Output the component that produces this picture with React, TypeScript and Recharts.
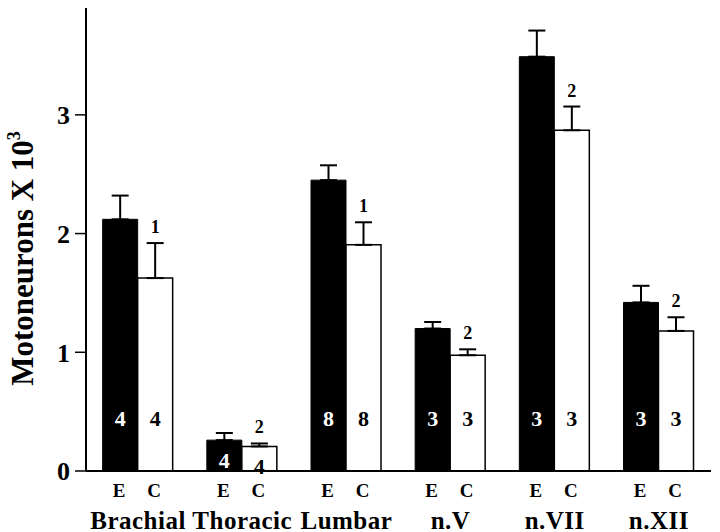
import { Bar, BarChart, ErrorBar, LabelList, XAxis, YAxis } from 'recharts';

const SERIF = '"Liberation Serif", "Times New Roman", serif';

const regions = ['Brachial', 'Thoracic', 'Lumbar', 'n.V', 'n.VII', 'n.XII'];
const expMean = [2.12, 0.26, 2.45, 1.2, 3.49, 1.42];
const expSem = [0.2, 0.06, 0.125, 0.055, 0.22, 0.14];
const ctlMean = [1.625, 0.207, 1.905, 0.975, 2.87, 1.18];
const ctlSem = [0.295, 0.025, 0.19, 0.05, 0.2, 0.115];
const nExp = [4, 4, 8, 3, 3, 3];
const nCtl = [4, 4, 8, 3, 3, 3];
const sigMarks = ['1', '2', '1', '2', '2', '2'];
const yTicks = [0, 1, 2, 3];

const data = regions.map((region, i) => ({
  region,
  e: expMean[i],
  eErr: [0, expSem[i]],
  c: ctlMean[i],
  cErr: [0, ctlSem[i]],
}));

const frame = { stroke: '#000', strokeWidth: 2 };

function box(p: any) {
  const vb = p.viewBox || p;
  return { x: Number(vb.x), y: Number(vb.y), w: Number(vb.width), h: Number(vb.height) };
}

// n per group, written inside the bar near its foot
const countLabel = (counts: number[], color: string) => (p: any) => {
  const { x, y, w, h } = box(p);
  const bottom = y + h;
  const cy = Math.max(bottom - 53, y + 20);
  return (
    <text x={x + w / 2} y={cy + 7.5} textAnchor="middle" fill={color} fontFamily={SERIF} fontWeight="bold" fontSize={22}>
      {counts[p.index]}
    </text>
  );
};

// E / C under each bar
const groupLetter = (letter: string) => (p: any) => {
  const { x, y, w, h } = box(p);
  return (
    <text x={x + w / 2 - 1} y={y + h + 26} textAnchor="middle" fill="#000" fontFamily={SERIF} fontWeight="bold" fontSize={19}>
      {letter}
    </text>
  );
};

// significance mark above the control error bar
const sigLabel = (p: any) => {
  const { x, y, w, h } = box(p);
  const i = p.index;
  const perUnit = h / ctlMean[i];
  const top = y - ctlSem[i] * perUnit;
  return (
    <text x={x + w / 2} y={top - 10} textAnchor="middle" fill="#000" fontFamily={SERIF} fontWeight="bold" fontSize={18}>
      {sigMarks[i]}
    </text>
  );
};

function RegionTick(props: any) {
  const { x, y, payload } = props;
  return (
    <text x={x} y={y + 57.5} textAnchor="middle" fill="#000" fontFamily={SERIF} fontWeight="bold" fontSize={25} letterSpacing={0.5}>
      {payload.value}
    </text>
  );
}

function YLabel(props: any) {
  const vb = props.viewBox || { x: 0, y: 0, width: 86, height: 462 };
  const x = vb.x + 33;
  const y = vb.y + vb.height / 2 + 19;
  return (
    <text x={x} y={y} transform={`rotate(-90, ${x}, ${y})`} textAnchor="middle" fill="#000" fontFamily={SERIF} fontWeight="bold" fontSize={31}>
      Motoneurons X 10
      <tspan dy={-13} fontSize={18}>3</tspan>
    </text>
  );
}

export default function App() {
  return (
    <div style={{ position: 'absolute', left: 0, top: 0, background: '#fff' }}>
      <BarChart width={720} height={532} data={data} margin={{ top: 8, right: 9, bottom: 0, left: 0 }} barCategoryGap="16%" barGap={0}>
        <XAxis dataKey="region" height={61} interval={0} tickLine={false} tickSize={0} tickMargin={0} axisLine={frame} tick={<RegionTick />} />
        <XAxis xAxisId="top" dataKey="region" orientation="top" height={0} tick={false} tickLine={false} axisLine={frame} />
        <YAxis
          domain={[0, 3.9]}
          ticks={yTicks}
          allowDataOverflow
          width={86}
          tickSize={11}
          tickMargin={5}
          axisLine={frame}
          tickLine={{ stroke: '#000', strokeWidth: 1.5 }}
          tick={{ fill: '#000', fontSize: 26, fontWeight: 'bold', fontFamily: SERIF }}
          label={<YLabel />}
        />
        <YAxis yAxisId="right" orientation="right" width={0} domain={[0, 3.9]} tick={false} tickLine={false} axisLine={frame} />
        <Bar dataKey="e" fill="#000" stroke="#000" strokeWidth={1} isAnimationActive={false}>
          <ErrorBar dataKey="eErr" width={8.5} strokeWidth={2} stroke="#000" />
          <LabelList dataKey="e" content={countLabel(nExp, '#fff')} />
          <LabelList dataKey="e" content={groupLetter('E')} />
        </Bar>
        <Bar dataKey="c" fill="#fff" stroke="#000" strokeWidth={1.5} isAnimationActive={false}>
          <ErrorBar dataKey="cErr" width={8.5} strokeWidth={2} stroke="#000" />
          <LabelList dataKey="c" content={countLabel(nCtl, '#000')} />
          <LabelList dataKey="c" content={groupLetter('C')} />
          <LabelList dataKey="c" content={sigLabel} />
        </Bar>
      </BarChart>
    </div>
  );
}
